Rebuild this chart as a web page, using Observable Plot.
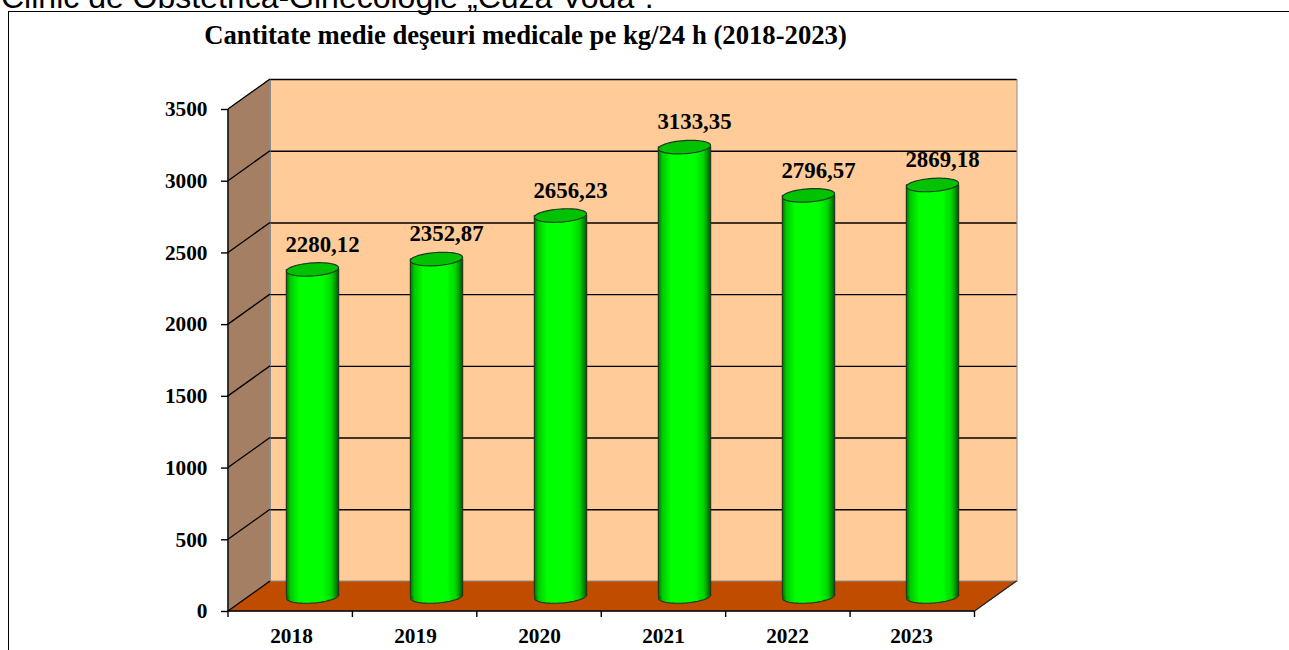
<!DOCTYPE html>
<html>
<head>
<meta charset="utf-8">
<script src="https://cdn.jsdelivr.net/npm/d3@7"></script>
<script src="https://cdn.jsdelivr.net/npm/@observablehq/plot@0.6"></script>
<style>
  body { margin: 0; background: #fff; }
  #wrap { position: relative; width: 1289px; height: 650px; overflow: hidden; background: #fff; }
  #wrap svg { position: absolute; left: 0; top: 0; }
  .header { position: absolute; left: 1px; top: -19px; font: 32px/32px "Liberation Sans", Arial, sans-serif; white-space: nowrap; color: #000; }
  .box { position: absolute; left: 8px; top: 11px; width: 1400px; height: 800px; border-top: 1.5px solid #000; border-left: 1.5px solid #000; pointer-events: none; }
  .title { position: absolute; left: 0; width: 1051px; top: 22px; text-align: center; font: bold 26.7px/27px "Liberation Serif", "Times New Roman", serif; color: #000; white-space: nowrap; }
</style>
</head>
<body>
<div id="wrap"></div>
<script>
// ---- data ----
const years = ["2018", "2019", "2020", "2021", "2022", "2023"];
const values = [2280.12, 2352.87, 2656.23, 3133.35, 2796.57, 2869.18];
const yTicks = [0, 500, 1000, 1500, 2000, 2500, 3000, 3500];
const headerText = "Clinic de Obstetrică-Ginecologie „Cuza Vodă”.";
const titleText = "Cantitate medie deşeuri medicale pe kg/24 h (2018-2023)";

const rows = years.map((year, i) => ({year, value: values[i]}));

// ---- style ----
const FONT = '"Liberation Serif", "Times New Roman", serif';
const DEPTH_X = 42, DEPTH_Y = -30;          // 3D depth offset of the back wall
const CYL_DX = DEPTH_X / 2, CYL_DY = DEPTH_Y / 2; // cylinders sit mid-depth
const BACK = "#FFCC99", SIDE = "#A47F64", FLOOR = "#C04C00";
const CYL_TOP = "#00C200", CYL_EDGE = "#1f3a1f";
const PAD_IN = 0.58, PAD_OUT = 0.29;
const ELL = 0.25, TILT = -0.07;

const W = 1289, H = 650;
const mL = 228, mR = 314.5, mT = 109, mB = 39;
const bandStep = (W - mL - mR) / years.length;
const RX = bandStep * (1 - PAD_IN) / 2;

const ellipse = {
  draw(ctx, size) {
    const rx = Math.sqrt(size / Math.PI), ry = rx * ELL;
    const n = 60, ca = Math.cos(TILT), sa = Math.sin(TILT);
    for (let i = 0; i <= n; i++) {
      const t = 2 * Math.PI * i / n;
      const px = rx * Math.cos(t), py = ry * Math.sin(t);
      const x = px * ca - py * sa, y = px * sa + py * ca;
      i ? ctx.lineTo(x, y) : ctx.moveTo(x, y);
    }
    ctx.closePath();
  }
};

function walls(index, scales, channels, dims) {
  const x0 = dims.marginLeft, x1 = dims.width - dims.marginRight;
  const y0 = scales.y(0), yT = scales.y(yTicks[yTicks.length - 1]);
  const g = d3.create("svg:g");
  const grad = g.append("defs").append("linearGradient")
    .attr("id", "cylGrad").attr("x1", 0).attr("x2", 1).attr("y1", 0).attr("y2", 0);
  [[0, "#006a00"], [0.08, "#00c800"], [0.25, "#00ff00"], [0.7, "#00ff00"], [0.88, "#00d400"], [1, "#006000"]]
    .forEach(([o, c]) => grad.append("stop").attr("offset", o).attr("stop-color", c));
  // left wall
  g.append("path")
    .attr("d", `M${x0},${y0}L${x0 + DEPTH_X},${y0 + DEPTH_Y}L${x0 + DEPTH_X},${yT + DEPTH_Y}L${x0},${yT}Z`)
    .attr("fill", SIDE).attr("stroke", "#8c8c8c").attr("stroke-width", 1);
  // floor
  g.append("path")
    .attr("d", `M${x0},${y0}L${x1},${y0}L${x1 + DEPTH_X},${y0 + DEPTH_Y}L${x0 + DEPTH_X},${y0 + DEPTH_Y}Z`)
    .attr("fill", FLOOR).attr("stroke", "#8c8c8c").attr("stroke-width", 1);
  g.append("line")
    .attr("x1", x1).attr("y1", y0).attr("x2", x1 + DEPTH_X).attr("y2", y0 + DEPTH_Y)
    .attr("stroke", "#222").attr("stroke-width", 1.3);
  // diagonal gridlines on the left wall
  for (const t of yTicks) {
    const y = scales.y(t);
    g.append("line").attr("x1", x0).attr("y1", y).attr("x2", x0 + DEPTH_X).attr("y2", y + DEPTH_Y)
      .attr("stroke", "#000").attr("stroke-width", 1.3);
  }
  return g.node();
}

function axisLines(index, scales, channels, dims) {
  const x0 = dims.marginLeft, x1 = dims.width - dims.marginRight;
  const y0 = scales.y(0), yT = scales.y(yTicks[yTicks.length - 1]);
  const g = d3.create("svg:g").attr("stroke", "#000").attr("stroke-width", 1.4);
  g.append("line").attr("x1", x0).attr("x2", x0).attr("y1", yT).attr("y2", y0);
  g.append("line").attr("x1", x0).attr("x2", x1).attr("y1", y0).attr("y2", y0);
  const step = (x1 - x0) / years.length;
  for (let i = 0; i <= years.length; i++) {
    g.append("line").attr("x1", x0 + i * step).attr("x2", x0 + i * step).attr("y1", y0).attr("y2", y0 + 6);
  }
  return g.node();
}

const chart = Plot.plot({
  width: W, height: H,
  marginLeft: mL, marginRight: mR, marginTop: mT, marginBottom: mB,
  style: {background: "transparent", color: "#000", fontFamily: FONT},
  x: {type: "band", domain: years, paddingInner: PAD_IN, paddingOuter: PAD_OUT, align: 0.5, axis: null},
  y: {domain: [0, 3500], axis: null},
  marks: [
    Plot.frame({fill: BACK, stroke: "#8c8c8c", dx: DEPTH_X, dy: DEPTH_Y}),
    Plot.ruleY(yTicks.filter(t => t > 0), {dx: DEPTH_X, dy: DEPTH_Y, stroke: "#000", strokeWidth: 1.4}),
    walls,
    // cylinders
    Plot.dot(rows, {x: "year", y: () => 0, r: RX, symbol: ellipse, fill: "url(#cylGrad)", stroke: CYL_EDGE, strokeWidth: 1.2, dx: CYL_DX, dy: CYL_DY}),
    Plot.barY(rows, {x: "year", y1: () => 0, y2: "value", fill: "url(#cylGrad)", dx: CYL_DX, dy: CYL_DY}),
    Plot.ruleX(rows, {x: "year", y1: () => 0, y2: "value", stroke: CYL_EDGE, strokeWidth: 1.2, dx: CYL_DX - RX, dy: CYL_DY}),
    Plot.ruleX(rows, {x: "year", y1: () => 0, y2: "value", stroke: CYL_EDGE, strokeWidth: 1.2, dx: CYL_DX + RX, dy: CYL_DY}),
    Plot.dot(rows, {x: "year", y: "value", r: RX, symbol: ellipse, fill: CYL_TOP, stroke: CYL_EDGE, strokeWidth: 1.2, dx: CYL_DX, dy: CYL_DY}),
    // value labels
    Plot.text(rows, {x: "year", y: "value", text: d => d.value.toFixed(2).replace(".", ","), dx: 31, dy: -40,
      fontSize: 22.8, fontWeight: "bold", fontFamily: FONT, fill: "#000"}),
    // axes
    axisLines,
    Plot.axisY(yTicks, {tickSize: 7, tickPadding: 14, tickFormat: d => String(d), fontSize: 21.3, fontWeight: "bold",
      fontFamily: FONT, stroke: "#000", strokeWidth: 1.4, label: null}),
    Plot.axisX({tickSize: 0, tickPadding: 16, fontSize: 21.3, fontWeight: "bold", fontFamily: FONT, label: null})
  ]
});

const wrap = document.getElementById("wrap");
wrap.appendChild(chart);
const header = document.createElement("div");
header.className = "header"; header.textContent = headerText; wrap.appendChild(header);
const box = document.createElement("div"); box.className = "box"; wrap.appendChild(box);
const title = document.createElement("div");
title.className = "title"; title.textContent = titleText; wrap.appendChild(title);
</script>
</body>
</html>
